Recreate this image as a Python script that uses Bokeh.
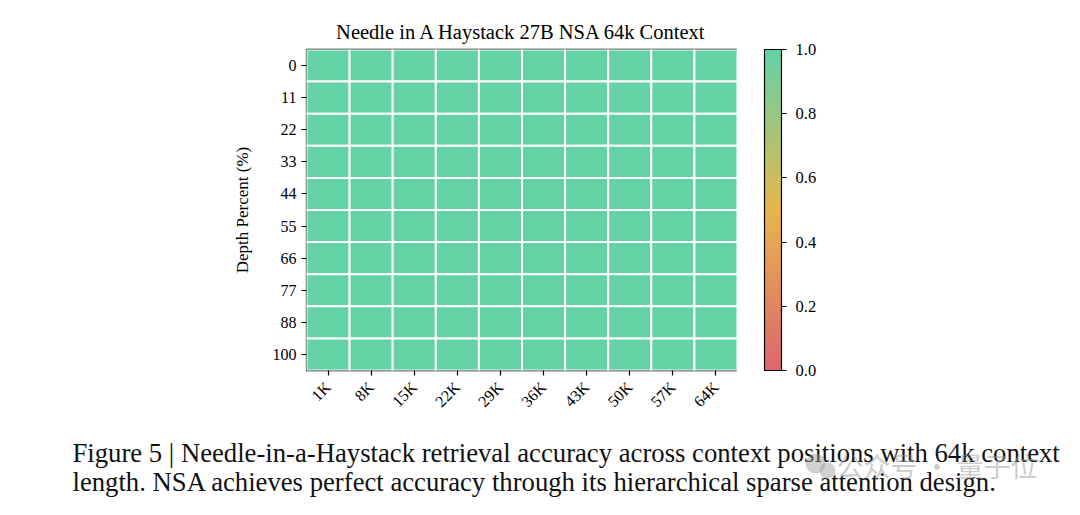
from bokeh.plotting import figure
from bokeh.layouts import column, row
from bokeh.models import (ColumnDataSource, LinearColorMapper, ColorBar, FixedTicker,
                          PrintfTickFormatter, Range1d)
from bokeh.core.properties import value
from bokeh.embed import file_html
from bokeh.resources import INLINE
import math

# ---- data ----
context_lengths = ["1K", "8K", "15K", "22K", "29K", "36K", "43K", "50K", "57K", "64K"]
depth_percents = ["0", "11", "22", "33", "44", "55", "66", "77", "88", "100"]
# accuracy score per depth (rows) x context length (columns)
scores = [
    [1.0, 1.0, 1.0, 1.0, 1.0, 1.0, 1.0, 1.0, 1.0, 1.0],
    [1.0, 1.0, 1.0, 1.0, 1.0, 1.0, 1.0, 1.0, 1.0, 1.0],
    [1.0, 1.0, 1.0, 1.0, 1.0, 1.0, 1.0, 1.0, 1.0, 1.0],
    [1.0, 1.0, 1.0, 1.0, 1.0, 1.0, 1.0, 1.0, 1.0, 1.0],
    [1.0, 1.0, 1.0, 1.0, 1.0, 1.0, 1.0, 1.0, 1.0, 1.0],
    [1.0, 1.0, 1.0, 1.0, 1.0, 1.0, 1.0, 1.0, 1.0, 1.0],
    [1.0, 1.0, 1.0, 1.0, 1.0, 1.0, 1.0, 1.0, 1.0, 1.0],
    [1.0, 1.0, 1.0, 1.0, 1.0, 1.0, 1.0, 1.0, 1.0, 1.0],
    [1.0, 1.0, 1.0, 1.0, 1.0, 1.0, 1.0, 1.0, 1.0, 1.0],
    [1.0, 1.0, 1.0, 1.0, 1.0, 1.0, 1.0, 1.0, 1.0, 1.0],
]
colorbar_ticks = [0.0, 0.2, 0.4, 0.6, 0.8, 1.0]
title_text = "Needle in A Haystack 27B NSA 64k Context"
caption_lines = [
    "Figure 5 | Needle-in-a-Haystack retrieval accuracy across context positions with 64k context",
    "length. NSA achieves perfect accuracy through its hierarchical sparse attention design.",
]
watermark = "公众号 · 量子位"

# ---- colormap (red -> yellow -> green) ----
stops = [(0.0, (220, 102, 110)), (0.5, (231, 182, 74)), (1.0, (99, 211, 166))]
palette = []
N = 256
for i in range(N):
    t = i / (N - 1)
    for (t0, c0), (t1, c1) in zip(stops[:-1], stops[1:]):
        if t0 <= t <= t1:
            f = (t - t0) / (t1 - t0)
            c = tuple(int(round(a + (b - a) * f)) for a, b in zip(c0, c1))
            break
    palette.append("#%02x%02x%02x" % c)

mapper = LinearColorMapper(palette=palette, low=0.0, high=1.0)

xs, ys, vs = [], [], []
for r, d in enumerate(depth_percents):
    for c, ctx in enumerate(context_lengths):
        xs.append(ctx)
        ys.append(d)
        vs.append(scores[r][c])
src = ColumnDataSource(dict(x=xs, y=ys, v=vs))

SERIF = "Liberation Serif"
TOP = 49
FRAME_H = 321

# ---- main heatmap ----
p = figure(frame_width=431, frame_height=FRAME_H, x_range=context_lengths,
           y_range=list(reversed(depth_percents)),
           output_backend="svg", toolbar_location=None,
           min_border_left=306, min_border_top=TOP, min_border_bottom=55,
           min_border_right=0, title=title_text)
p.title.align = "center"
p.title.text_font = SERIF
p.title.text_font_size = "20.5px"
p.title.text_font_style = "normal"
p.title.text_color = "black"
p.title.standoff = 13

p.rect(x="x", y="y", width=1, height=1, source=src,
       fill_color={"field": "v", "transform": mapper},
       line_color="white", line_width=2)

p.grid.visible = False
p.outline_line_color = "black"
p.outline_line_width = 1.3
p.outline_line_alpha = 1.0
p.background_fill_color = "white"
p.border_fill_color = "white"

for ax in (p.xaxis[0], p.yaxis[0]):
    ax.axis_line_color = None
    ax.major_tick_in = 0
    ax.major_tick_out = 5
    ax.major_tick_line_color = "black"
    ax.major_tick_line_width = 1.2
    ax.minor_tick_line_color = None
    ax.major_label_text_font = SERIF
    ax.major_label_text_font_size = "16px"
    ax.major_label_text_color = "black"

p.xaxis.major_label_orientation = math.pi / 4
p.xaxis.major_label_standoff = 9
p.yaxis.major_label_standoff = 5
p.yaxis.axis_label = "Depth Percent (%)"
p.yaxis.axis_label_text_font = SERIF
p.yaxis.axis_label_text_font_size = "17px"
p.yaxis.axis_label_text_font_style = "normal"
p.yaxis.axis_label_text_color = "black"
p.yaxis.axis_label_standoff = 18

# ---- colorbar (spacer frame + colorbar on its right) ----
cbf = figure(frame_width=27, frame_height=FRAME_H, output_backend="svg",
             toolbar_location=None, min_border_left=0, min_border_top=TOP,
             min_border_bottom=20, min_border_right=60,
             x_axis_location=None, y_axis_location=None,
             x_range=Range1d(0, 1), y_range=Range1d(0, 1))
cbf.grid.visible = False
cbf.outline_line_color = None
cbf.background_fill_color = "white"
cbf.border_fill_color = "white"
cbf.scatter(x=[0.5], y=[0.5], size=0, alpha=0)
cb = ColorBar(color_mapper=mapper, ticker=FixedTicker(ticks=colorbar_ticks),
              formatter=PrintfTickFormatter(format="%.1f"),
              width=17, padding=0,
              bar_line_color="black", bar_line_width=1.2,
              major_tick_in=0, major_tick_out=5,
              major_tick_line_color="black", major_tick_line_width=1.2,
              minor_tick_line_color=None,
              major_label_text_font=SERIF, major_label_text_font_size="16.5px",
              major_label_text_color="black",
              label_standoff=9, border_line_color=None,
              background_fill_color=None)
cbf.add_layout(cb, "right")

# ---- caption ----
CAP_H = 90
cap = figure(width=1064, height=CAP_H, output_backend="svg", toolbar_location=None,
             min_border=0, x_axis_location=None, y_axis_location=None,
             x_range=Range1d(0, 1064), y_range=Range1d(CAP_H, 0))
cap.grid.visible = False
cap.outline_line_color = None
cap.background_fill_color = "white"
cap.border_fill_color = "white"
cap.text(x=[72, 72], y=[27, 56], text=caption_lines,
         text_font=value(SERIF), text_font_size="26.7px", text_color="#111111",
         text_align="left", text_baseline="middle")
# watermark (icon bubbles + text)
cap.circle(x=[815, 827], y=[38, 45], radius=[10, 8], fill_color="#9a9a9a",
           fill_alpha=0.45, line_color=None)
cap.text(x=[836], y=[40], text=[watermark],
         text_font=value("Noto Sans CJK SC"), text_font_size="27px",
         text_color="#9a9a9a", text_alpha=0.5,
         text_align="left", text_baseline="middle")

layout = column(row(p, cbf, spacing=0), cap, spacing=0)
open("out.html", "w").write(file_html(layout, INLINE))
